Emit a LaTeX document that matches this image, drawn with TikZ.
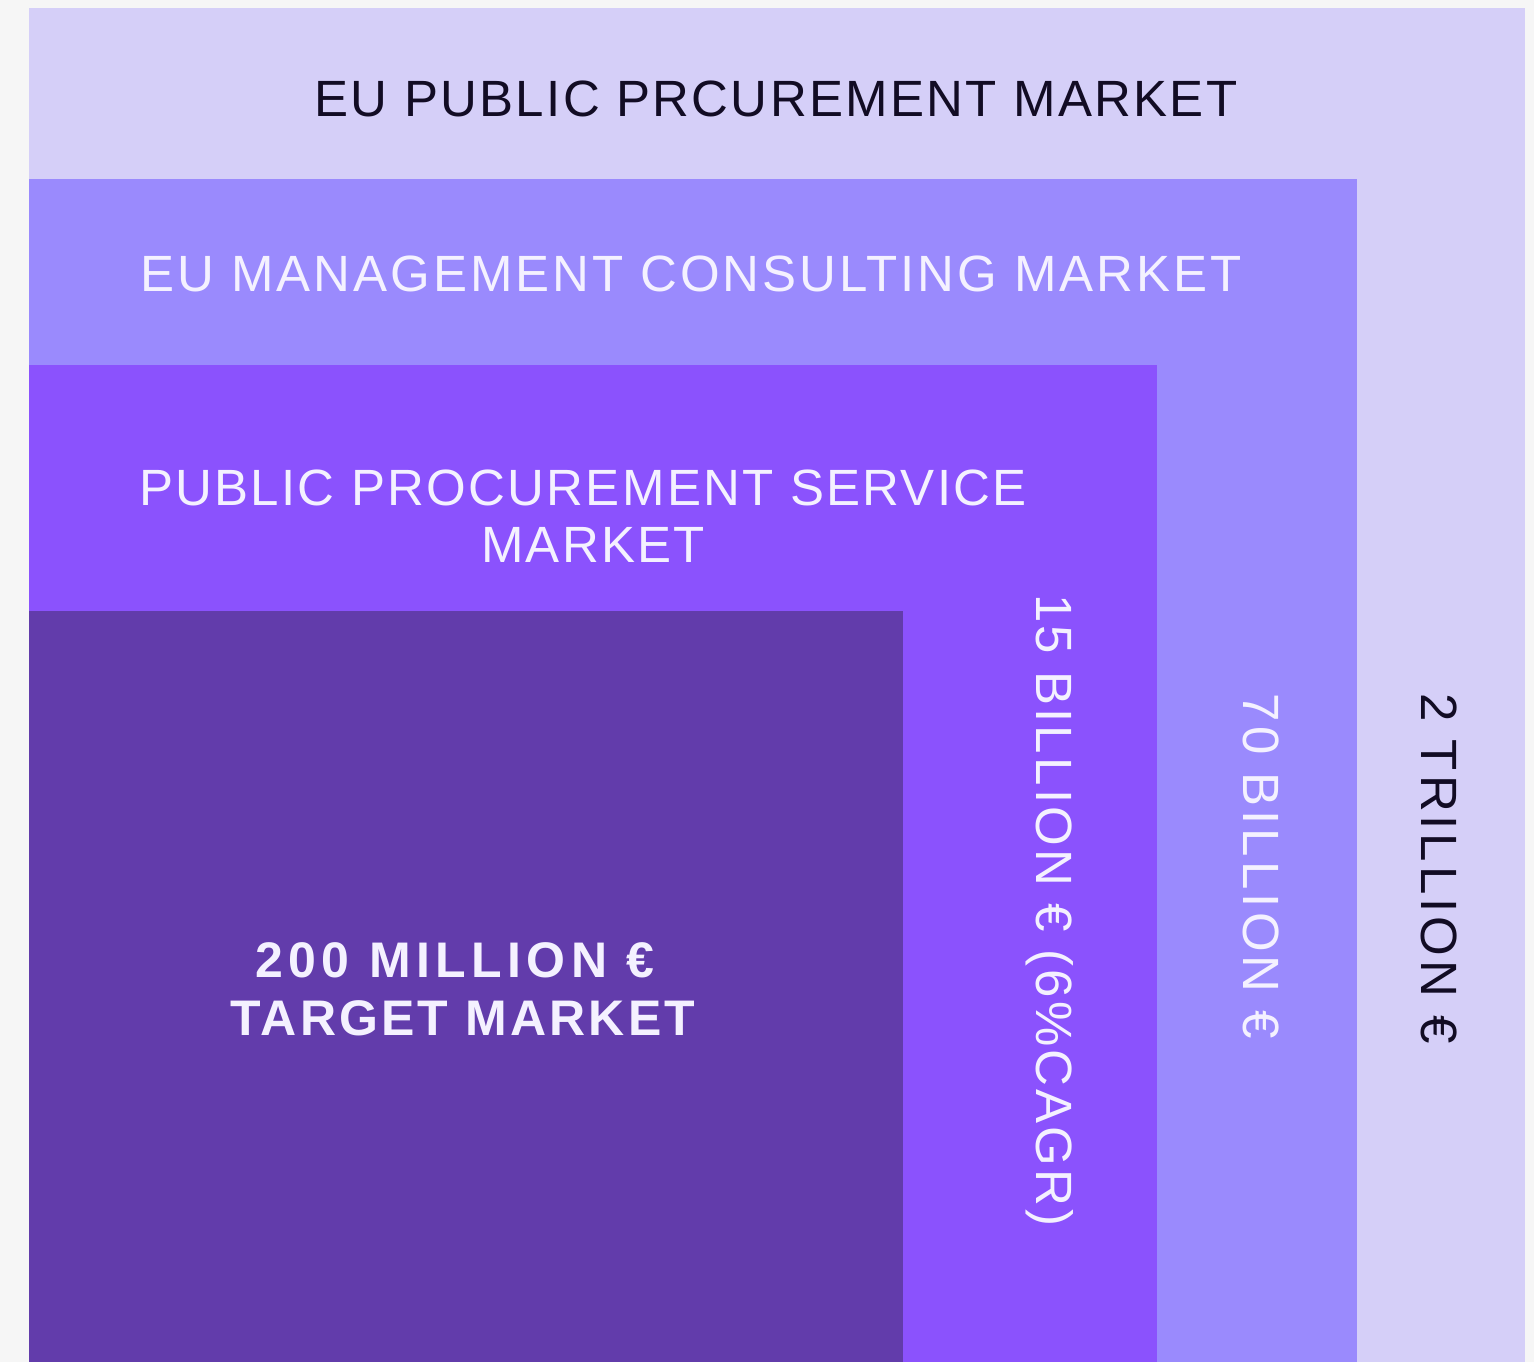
\documentclass[tikz,border=0pt]{standalone}
\usepackage{fontspec}
\setmainfont{Liberation Sans}
\newfontfamily\lblA[LetterSpace=4.5]{Liberation Sans}
\newfontfamily\lblB[LetterSpace=5.7]{Liberation Sans}
\newfontfamily\lblC[LetterSpace=6.3]{Liberation Sans}
\newfontfamily\lblD[LetterSpace=8]{Liberation Sans}
\newfontfamily\lblE[LetterSpace=7.7]{Liberation Sans}
\newfontfamily\lblbA[LetterSpace=10.9]{Liberation Sans Bold}
\newfontfamily\lblbB[LetterSpace=6.3]{Liberation Sans Bold}
\definecolor{bgc}{HTML}{F6F6F6}
\definecolor{lvA}{HTML}{D5CFF8}
\definecolor{lvB}{HTML}{9A8AFD}
\definecolor{lvC}{HTML}{8B52FD}
\definecolor{lvD}{HTML}{623CAB}
\definecolor{inkdark}{HTML}{120C24}
\definecolor{inklight}{HTML}{F4F1FF}
\begin{document}
\begin{tikzpicture}[x=1pt,y=-1pt,
  txt/.style={inner sep=0pt,outer sep=0pt,anchor=center,font=\fontsize{51}{57}\selectfont},
  btxt/.style={inner sep=0pt,outer sep=0pt,anchor=center,font=\fontsize{50}{57}\selectfont}]
\fill[bgc] (0,0) rectangle (1534,1362);
\useasboundingbox (0,0) rectangle (1534,1362);
\fill[lvA] (29,8) rectangle (1525,1362);
\fill[lvB] (29,179) rectangle (1357,1362);
\fill[lvC] (29,365) rectangle (1157,1362);
\fill[lvD] (29,611) rectangle (903,1362);
\node[txt,text=inkdark] (t1) at (776,98.5) {\lblA EU PUBLIC PRCUREMENT MARKET};
\node[txt,text=inklight] (t2) at (691,273.5) {\lblB EU MANAGEMENT CONSULTING MARKET};
\node[txt,text=inklight] (t3a) at (583,487.5) {\lblA PUBLIC PROCUREMENT SERVICE};
\node[txt,text=inklight] (t3b) at (593,545) {\lblA MARKET};
\node[btxt,text=inklight] (t4a) at (455,960) {\lblbA 200 MILLION €};
\node[btxt,text=inklight] (t4b) at (463,1018.5) {\lblbB TARGET MARKET};
\node[txt,text=inklight,rotate=-90,anchor=west] (v1) at (1049.5,594) {\lblC 15 BILLION € (6\%CAGR)};
\node[txt,text=inklight,rotate=-90] (v2) at (1261.5,866.5) {\lblD 70 BILLION €};
\node[txt,text=inkdark,rotate=-90] (v3) at (1439.5,868.5) {\lblE 2 TRILLION €};
\end{tikzpicture}
\end{document}
